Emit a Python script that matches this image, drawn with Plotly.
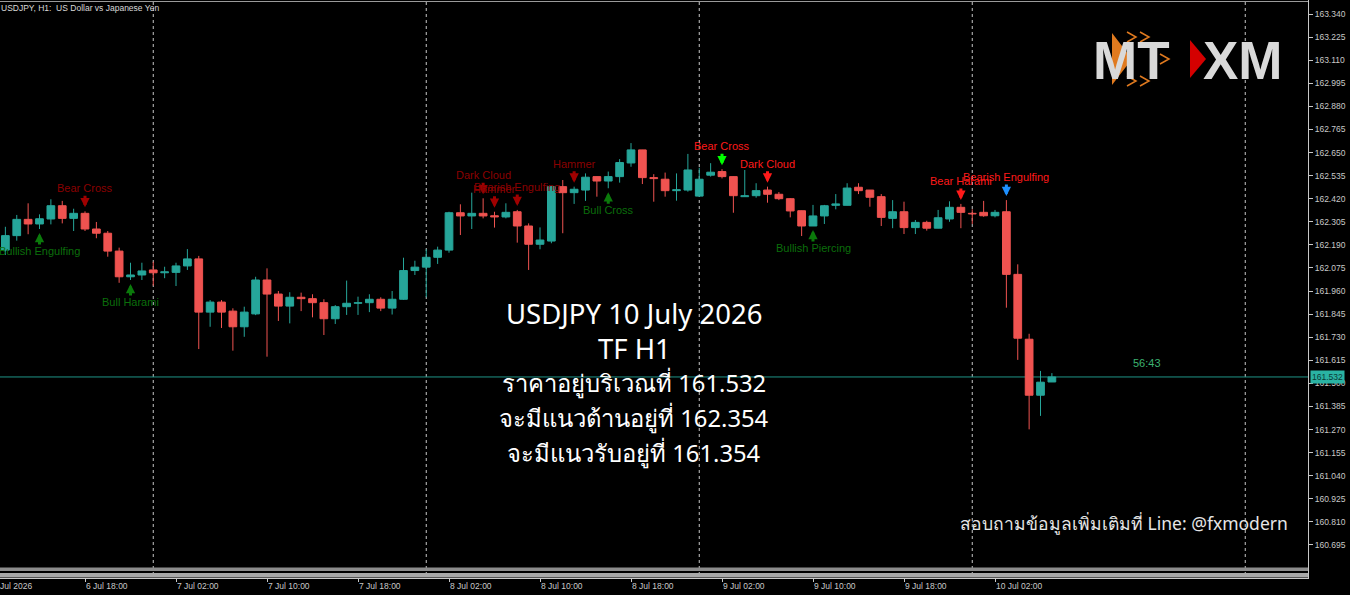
import pandas as pd
import plotly.graph_objects as go

# ------------------------------------------------ DATA ------------------------------------------------
first_bar = "2026-07-06 11:00"
origin = pd.Timestamp("2026-07-06 18:00")

opens = [162.164, 162.236, 162.317, 162.294, 162.319, 162.385, 162.322, 162.347, 162.269, 162.248,
         162.159, 162.031, 162.040, 162.065, 162.051, 162.053, 162.085, 162.120, 161.855, 161.905,
         161.860, 161.782, 161.846, 162.015, 161.945, 161.885, 161.929, 161.922, 161.902, 161.822,
         161.882, 161.899, 161.902, 161.919, 161.875, 161.919, 162.062, 162.079, 162.128, 162.164,
         162.350, 162.334, 162.347, 162.335, 162.329, 162.355, 162.284, 162.193, 162.209, 162.480,
         162.450, 162.463, 162.530, 162.508, 162.530, 162.598, 162.663, 162.525, 162.517, 162.460,
         162.463, 162.433, 162.537, 162.555, 162.530, 162.430, 162.435, 162.463, 162.442, 162.420,
         162.360, 162.284, 162.334, 162.387, 162.387, 162.477, 162.463, 162.430, 162.322, 162.355,
         162.276, 162.302, 162.273, 162.319, 162.377, 162.347, 162.352, 162.335, 162.355, 162.043,
         161.720, 161.441, 161.507]
highs = [162.280, 162.339, 162.397, 162.342, 162.417, 162.409, 162.370, 162.357, 162.304, 162.259,
         162.176, 162.101, 162.101, 162.106, 162.081, 162.101, 162.169, 162.135, 161.915, 161.915,
         161.874, 161.882, 162.031, 162.073, 161.960, 161.954, 161.952, 161.944, 161.919, 161.890,
         162.012, 161.932, 161.944, 161.929, 161.960, 162.126, 162.111, 162.168, 162.181, 162.355,
         162.392, 162.450, 162.422, 162.355, 162.397, 162.364, 162.297, 162.277, 162.483, 162.513,
         162.480, 162.546, 162.530, 162.555, 162.617, 162.697, 162.663, 162.542, 162.550, 162.546,
         162.643, 162.574, 162.597, 162.567, 162.530, 162.563, 162.497, 162.480, 162.453, 162.422,
         162.360, 162.389, 162.389, 162.443, 162.497, 162.497, 162.463, 162.443, 162.413, 162.405,
         162.314, 162.310, 162.364, 162.407, 162.394, 162.367, 162.409, 162.364, 162.413, 162.093,
         161.747, 161.562, 161.551]
lows = [162.140, 162.211, 162.243, 162.269, 162.292, 162.297, 162.259, 162.259, 162.223, 162.131,
        162.001, 162.015, 162.015, 161.987, 162.024, 161.985, 162.065, 161.671, 161.782, 161.776,
        161.663, 161.732, 161.840, 161.633, 161.811, 161.799, 161.860, 161.829, 161.741, 161.796,
        161.841, 161.841, 161.855, 161.860, 161.843, 161.917, 162.040, 161.929, 162.095, 162.151,
        162.239, 162.269, 162.322, 162.276, 162.322, 162.201, 162.065, 162.168, 162.198, 162.248,
        162.394, 162.409, 162.430, 162.472, 162.500, 162.579, 162.493, 162.405, 162.430, 162.410,
        162.455, 162.430, 162.530, 162.521, 162.350, 162.430, 162.425, 162.400, 162.413, 162.327,
        162.234, 162.284, 162.294, 162.367, 162.387, 162.443, 162.380, 162.284, 162.273, 162.244,
        162.244, 162.261, 162.273, 162.305, 162.273, 162.294, 162.330, 162.327, 161.877, 161.617,
        161.271, 161.338, 161.507]
closes = [162.236, 162.317, 162.294, 162.320, 162.385, 162.322, 162.347, 162.269, 162.248, 162.159,
          162.031, 162.040, 162.060, 162.051, 162.056, 162.085, 162.120, 161.855, 161.905, 161.855,
          161.782, 161.855, 162.015, 161.945, 161.885, 161.929, 161.922, 161.902, 161.822, 161.882,
          161.899, 161.902, 161.919, 161.875, 161.919, 162.062, 162.079, 162.128, 162.164, 162.350,
          162.334, 162.347, 162.334, 162.329, 162.352, 162.284, 162.193, 162.214, 162.480, 162.450,
          162.467, 162.527, 162.508, 162.530, 162.600, 162.663, 162.525, 162.520, 162.460, 162.465,
          162.563, 162.517, 162.552, 162.530, 162.435, 162.435, 162.460, 162.442, 162.420, 162.359,
          162.284, 162.334, 162.385, 162.394, 162.473, 162.460, 162.427, 162.327, 162.355, 162.276,
          162.302, 162.273, 162.325, 162.377, 162.352, 162.344, 162.335, 162.352, 162.043, 161.725,
          161.441, 161.506, 161.532]

# pattern signals: (label, bar time, direction, text colour, arrow colour)
signals = [
    ("Bullish Engulfing", "2026-07-06 14:00", "up", "#0b6e0b", "#0b7a0b"),
    ("Bear Cross", "2026-07-06 18:00", "down", "#8b0000", "#a00000"),
    ("Bull Harami", "2026-07-06 22:00", "up", "#0b6e0b", "#0b7a0b"),
    ("Dark Cloud", "2026-07-08 05:00", "down", "#8b0000", "#a00000"),
    ("Hammer", "2026-07-08 06:00", "down", "#8b0000", "#a00000"),
    ("Bearish Engulfing", "2026-07-08 08:00", "down", "#8b0000", "#a00000"),
    ("Hammer", "2026-07-08 13:00", "down", "#8b0000", "#a00000"),
    ("Bull Cross", "2026-07-08 16:00", "up", "#0b6e0b", "#0b7a0b"),
    ("Bear Cross", "2026-07-09 02:00", "down", "#ff1a1a", "#00ff00"),
    ("Dark Cloud", "2026-07-09 06:00", "down", "#ff1a1a", "#ff1a1a"),
    ("Bullish Piercing", "2026-07-09 10:00", "up", "#0b6e0b", "#0b7a0b"),
    ("Bear Harami", "2026-07-09 23:00", "down", "#ff1a1a", "#ff1a1a"),
    ("Bearish Engulfing", "2026-07-10 03:00", "down", "#ff1a1a", "#1e90ff"),
]

time_ticks = ["2026-07-06 18:00", "2026-07-07 02:00", "2026-07-07 10:00", "2026-07-07 18:00",
              "2026-07-08 02:00", "2026-07-08 10:00", "2026-07-08 18:00", "2026-07-09 02:00",
              "2026-07-09 10:00", "2026-07-09 18:00", "2026-07-10 02:00"]
time_labels = ["6 Jul 18:00", "7 Jul 02:00", "7 Jul 10:00", "7 Jul 18:00", "8 Jul 02:00", "8 Jul 10:00",
               "8 Jul 18:00", "9 Jul 02:00", "9 Jul 10:00", "9 Jul 18:00", "10 Jul 02:00"]
day_breaks = ["2026-07-07", "2026-07-08", "2026-07-09", "2026-07-10", "2026-07-11"]

price_ticks = ["160.695", "160.810", "160.925", "161.040", "161.155", "161.270", "161.385", "161.500",
               "161.615", "161.730", "161.845", "161.960", "162.075", "162.190", "162.305", "162.420",
               "162.535", "162.650", "162.765", "162.880", "162.995", "163.110", "163.225", "163.340"]

last_price = 161.532
info_lines = ["USDJPY 10 July 2026", "TF H1", "ราคาอยู่บริเวณที่ 161.532",
              "จะมีแนวต้านอยู่ที่ 162.354", "จะมีแนวรับอยู่ที่ 161.354"]
contact = "สอบถามข้อมูลเพิ่มเติมที่ Line: @fxmodern"

# ------------------------------------------------ LAYOUT HELPERS ------------------------------------------------
W, H = 1350, 595
PW, PH = 1308, 578          # plot area in pixels
BULL, BEAR = "#26a69a", "#ef5350"
AXIS = "#c8c8c8"


def hrs(t):
    return (pd.Timestamp(t) - origin) / pd.Timedelta("1h")


def px(x):
    return x / PW


def py(y):
    return 1 - y / PH


def has_thai(s):
    return any("\u0e00" <= ch <= "\u0e7f" for ch in s)


times = pd.date_range(first_bar, periods=len(opens), freq="h")
df = pd.DataFrame({"x": [hrs(t) for t in times], "o": opens, "h": highs, "l": lows, "c": closes}, index=times)
df["up"] = df.c >= df.o
df["base"] = df[["o", "c"]].min(axis=1)
df["body"] = (df.c - df.o).abs()

fig = go.Figure()
# wicks
for up, col in [(True, BULL), (False, BEAR)]:
    d = df[df.up == up]
    wx, wy = [], []
    for _, r in d.iterrows():
        wx += [r.x, r.x, None]
        wy += [r.l, r.h, None]
    fig.add_trace(go.Scatter(x=wx, y=wy, mode="lines", line=dict(color=col, width=1),
                             hoverinfo="skip", showlegend=False))
# bodies
for up, col in [(True, BULL), (False, BEAR)]:
    d = df[df.up == up]
    fig.add_trace(go.Bar(x=d.x, y=d.body, base=d.base, width=0.68,
                         marker=dict(color=col, line=dict(color=col, width=1)),
                         hoverinfo="skip", showlegend=False))

shapes = []
# bottom scroll strip
shapes.append(dict(type="rect", xref="paper", yref="paper", x0=0, x1=1, y0=py(571), y1=py(567.5),
                   fillcolor="#8c8c8c", line_width=0, layer="above"))
shapes.append(dict(type="rect", xref="paper", yref="paper", x0=0, x1=1, y0=py(577.5), y1=py(573),
                   fillcolor="#a8a8a8", line_width=0, layer="above"))
# top frame line
shapes.append(dict(type="line", xref="paper", yref="paper", x0=0, x1=1, y0=py(1.5), y1=py(1.5),
                   line=dict(color="#9a9a9a", width=1)))
# day separators
for d in day_breaks:
    shapes.append(dict(type="line", xref="x", yref="paper", x0=hrs(d), x1=hrs(d), y0=py(575), y1=1,
                       line=dict(color="#c8c8c8", width=1, dash="dot"), layer="below"))
# last price line
shapes.append(dict(type="line", xref="paper", yref="y", x0=0, x1=1, y0=last_price, y1=last_price,
                   line=dict(color="#1f9386", width=1), layer="below"))
# logo pieces
shapes.append(dict(type="path", xref="paper", yref="paper", fillcolor="#e07a1f", line_width=0,
                   path=f"M {px(1112)} {py(33)} L {px(1132)} {py(59)} L {px(1112)} {py(85)} Z"))
for cx, cy in [(1127, 37), (1140, 37), (1127, 81), (1140, 81), (1160, 59)]:
    shapes.append(dict(type="path", xref="paper", yref="paper", line=dict(color="#e07a1f", width=1.5),
                       path=f"M {px(cx)} {py(cy - 5)} L {px(cx + 9)} {py(cy)} L {px(cx)} {py(cy + 5)}"))
shapes.append(dict(type="path", xref="paper", yref="paper", fillcolor="#d40000", line_width=0,
                   path=f"M {px(1190)} {py(40)} L {px(1206)} {py(59)} L {px(1190)} {py(78)} Z"))

ann = []
# pattern arrows and labels
for name, t, way, tcol, acol in signals:
    r = df.loc[pd.Timestamp(t)]
    if way == "down":
        y, shift, ay, tshift = r.h, 4, -13, 23
    else:
        y, shift, ay, tshift = r.l, -4, 13, -22
    ann.append(dict(x=r.x, y=y, yshift=shift, ax=0, ay=ay, showarrow=True, text="",
                    arrowhead=2, arrowsize=0.62, arrowwidth=3, arrowcolor=acol, standoff=0))
    ann.append(dict(x=r.x, y=y, yshift=tshift, text=name, showarrow=False, xanchor="center", yanchor="middle",
                    font=dict(family="Liberation Sans", size=11, color=tcol)))

# header
ann.append(dict(xref="paper", yref="paper", x=px(-1), y=py(8), xanchor="left", yanchor="middle",
                text="USDJPY, H1:  US Dollar vs Japanese Yen", showarrow=False,
                font=dict(family="Liberation Sans", size=8.5, color="#d8d8d8")))
# first date label
ann.append(dict(xref="paper", yref="paper", x=px(-9), y=py(586), xanchor="left", yanchor="middle",
                text="6 Jul 2026", showarrow=False,
                font=dict(family="Liberation Sans", size=8.5, color=AXIS)))
# price tag and countdown
ann.append(dict(xref="paper", yref="y", x=1, y=last_price, xanchor="left", yanchor="middle", xshift=2,
                text=f"{last_price:.3f}", showarrow=False, bgcolor="#2ab3a3", borderpad=1,
                font=dict(family="Liberation Sans", size=8.5, color="#0a3a35")))
ann.append(dict(xref="paper", yref="paper", x=px(1147), y=py(363), text="56:43", showarrow=False,
                xanchor="center", yanchor="middle",
                font=dict(family="Liberation Sans", size=11, color="#3cb371")))
# overlay text
for k, line in enumerate(info_lines):
    size = 23.8 if has_thai(line) else 27.5
    ann.append(dict(xref="paper", yref="paper", x=px(634), y=py(313 + 35 * k), text=line, showarrow=False,
                    xanchor="center", yanchor="middle", font=dict(family="Noto Sans", size=size, color="#ffffff")))
ann.append(dict(xref="paper", yref="paper", x=px(1290), y=py(523), xanchor="right", yanchor="middle",
                text=contact, showarrow=False, font=dict(family="Noto Sans", size=17.5, color="#e6e6e6")))
# logo text
ann.append(dict(xref="paper", yref="paper", x=px(1131), y=py(60), text="<b>MT</b>", showarrow=False,
                xanchor="center", yanchor="middle", font=dict(family="Liberation Sans", size=53, color="#d9d9d9")))
ann.append(dict(xref="paper", yref="paper", x=px(1243), y=py(60), text="<b>XM</b>", showarrow=False,
                xanchor="center", yanchor="middle", font=dict(family="Liberation Sans", size=53, color="#d9d9d9")))

fig.update_layout(
    width=W, height=H, margin=dict(l=0, r=W - PW, t=0, b=H - PH),
    paper_bgcolor="#000000", plot_bgcolor="#000000", barmode="overlay",
    shapes=shapes, annotations=ann, showlegend=False,
    xaxis=dict(range=[-85 / 11.375, (PW - 85) / 11.375],
               showgrid=False, zeroline=False, showline=True, linecolor=AXIS,
               tickvals=[hrs(t) for t in time_ticks], ticktext=time_labels,
               ticks="outside", ticklen=3, tickcolor=AXIS, ticklabelposition="outside right",
               tickfont=dict(family="Liberation Sans", size=8.5, color=AXIS)),
    yaxis=dict(side="right", range=[163.340 - (PH - 14) / 200.75, 163.340 + 14 / 200.75],
               showgrid=False, zeroline=False, showline=True, linecolor=AXIS,
               tickvals=[float(v) for v in price_ticks], ticktext=price_ticks,
               ticks="outside", ticklen=4, tickcolor=AXIS,
               tickfont=dict(family="Liberation Sans", size=8.5, color=AXIS)),
)

fig.write_html("out.html", config={"displayModeBar": False},
               post_script="document.body.style.margin='0px';document.body.style.overflow='hidden';")
